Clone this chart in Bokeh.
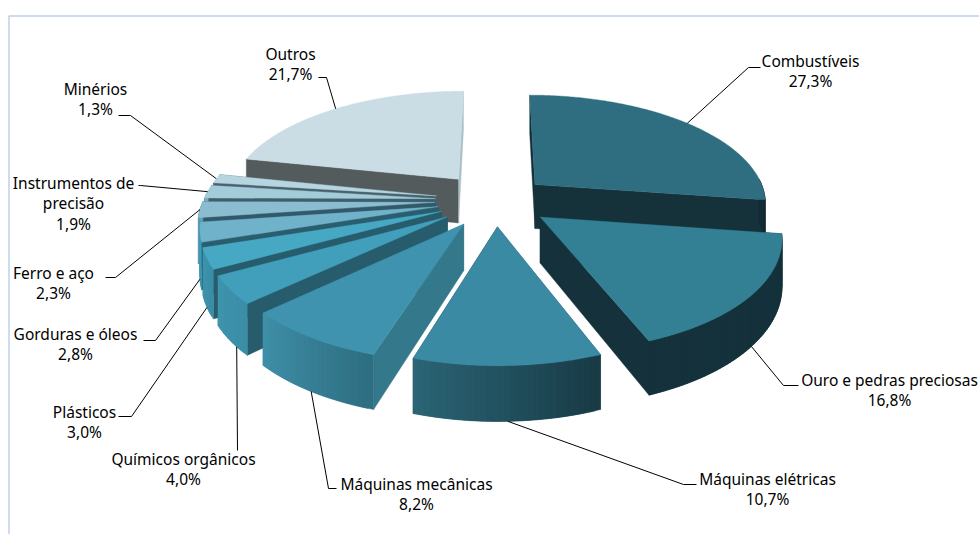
import math
from bokeh.embed import file_html
from bokeh.resources import INLINE
from bokeh.plotting import figure
from bokeh.models import ColumnDataSource, Range1d
from bokeh.core.properties import value

categories = ["Combustíveis", "Ouro e pedras preciosas", "Máquinas elétricas", "Máquinas mecânicas",
              "Químicos orgânicos", "Plásticos", "Gorduras e óleos", "Ferro e aço",
              "Instrumentos de precisão", "Minérios", "Outros"]
shares = [27.3, 16.8, 10.7, 8.2, 4.0, 3.0, 2.8, 2.3, 1.9, 1.3, 21.7]

# --- style / layout ------------------------------------------------------
explode = [.23, .24, .235, .25, .25, .25, .25, .26, .26, .26, .26]
top_col = ["#2f6e80", "#337f94", "#3b8aa3", "#3f93ae", "#429fbb", "#47a8c4", "#6fb2c9",
           "#8bbdd0", "#a3cbd9", "#b7d5e0", "#cadde5"]
start_wall = ["#12303a", "#15323c", "#2a6273", "#33788b", "#265c6c", "#265c6c", "#2a5e6e",
              "#33586a", "#3d5f6d", "#47626c", "#535b5c"]
end_wall = ["#15313a", "#15323c", "#183a45", "#33788b", "#265c6c", "#265c6c", "#2a5e6e",
            "#33586a", "#3d5f6d", "#47626c", "#a9c0c6"]
# outer-wall gradient, right end -> left end
outer_r = ["#152e36", "#15323c", "#183a45", "#2e6d80", "#3a8ea6", "#3a8ea6", "#3b90a8",
           "#60a0b5", "#7aabbb", "#94b8c4", "#b0c6cd"]
outer_l = ["#152e36", "#15323c", "#2b6576", "#3f90a9", "#3f94ad", "#3f94ad", "#40a0b8",
           "#60a0b5", "#7aabbb", "#94b8c4", "#b0c6cd"]
paint_order = [10, 9, 8, 7, 6, 5, 4, 3, 0, 1, 2]

OX, OY = 495.0, 200.0     # centre of the projected pie
RA, RB = 232.0, 108.0     # radii
PERSP = 0.156
DEPTH = 45.0

FRAME = "#bcd0e8"
# label: centre x, y of the first line; leader elbow, leader end; where on the slice the leader starts
lab_lines = [["Combustíveis"], ["Ouro e pedras preciosas"], ["Máquinas elétricas"], ["Máquinas mecânicas"],
             ["Químicos orgânicos"], ["Plásticos"], ["Gorduras e óleos"], ["Ferro e aço"],
             ["Instrumentos de", "precisão"], ["Minérios"], ["Outros"]]
lab_x = [810, 889, 767, 416, 183, 84, 75, 53, 73, 95, 290]
lab_y = [60, 379, 478, 483, 458, 411, 333, 272, 182, 88, 53]
elbow = [(748, 67), (783, 385), (683, 484), (328, 488), (237, 450), (131, 416), (155, 340), (115, 277),
         (140, 185), (130, 115), (326, 77)]
lead_end = [(760, 67), (798, 385), (696, 484), (336, 488), (237, 450), (118, 416), (143, 340), (105, 277),
            (138, 185), (118, 115), (318, 77)]
lead_frac = [.5, .5, .5, .5, .3, .5, .5, .5, .5, .5, .5]


def project(u, v, drop=0.0):
    s = 1.0 / (1.0 + PERSP * v)
    return OX + RA * u * s, OY - RB * v * s + drop * DEPTH * s


def rim(theta, e, mid, drop=0.0, r=1.0):
    u = r * math.sin(theta) + e * math.sin(mid)
    v = r * math.cos(theta) + e * math.cos(mid)
    return project(u, v, drop)


def mix(a, b, t):
    ca = [int(a[i:i + 2], 16) for i in (1, 3, 5)]
    cb = [int(b[i:i + 2], 16) for i in (1, 3, 5)]
    return "#%02x%02x%02x" % tuple(round(x + (y - x) * t) for x, y in zip(ca, cb))


total = sum(shares)
bounds = [0.0]
for sh in shares:
    bounds.append(bounds[-1] + sh / total * 2 * math.pi)

xs, ys, cols = [], [], []


def add(poly, col):
    xs.append([q[0] for q in poly])
    ys.append([q[1] for q in poly])
    cols.append(col)


for i in paint_order:
    a0, a1 = bounds[i], bounds[i + 1]
    mid = (a0 + a1) / 2
    e = explode[i]
    apex_top = rim(0, e, mid, 0, 0)
    apex_bot = rim(0, e, mid, 1, 0)
    # side walls
    add([apex_top, rim(a0, e, mid), rim(a0, e, mid, 1), apex_bot], start_wall[i])
    add([apex_top, rim(a1, e, mid), rim(a1, e, mid, 1), apex_bot], end_wall[i])
    # outer wall in thin overlapping strips
    n = max(4, int((a1 - a0) / 0.02))
    step = (a1 - a0) / n
    for k in range(n):
        t0 = a0 + step * k
        t1 = min(a1, t0 + 2 * step)
        if math.cos(t0 + step / 2) < 0.05:
            add([rim(t0, e, mid), rim(t1, e, mid), rim(t1, e, mid, 1), rim(t0, e, mid, 1)],
                mix(outer_r[i], outer_l[i], (k + .5) / n))
    # top face
    n = max(6, int((a1 - a0) / 0.01))
    add([apex_top] + [rim(a0 + (a1 - a0) * k / n, e, mid) for k in range(n + 1)], top_col[i])

p = figure(width=979, height=534, output_backend="svg", toolbar_location=None,
           x_range=Range1d(0, 979), y_range=Range1d(534, 0), min_border=0, outline_line_color=None)
p.axis.visible = False
p.grid.visible = False
p.background_fill_color = "white"
p.border_fill_color = "white"

frame_x = [8.5, 8.5, 979]
frame_y = [534, 15.5, 15.5]
p.line(frame_x, frame_y, line_color=FRAME, line_width=1.5)

p.patches("xs", "ys", source=ColumnDataSource(dict(xs=xs, ys=ys, c=cols)), fill_color="c", line_color="c",
          line_width=0.4)

# leaders
lx, ly = [], []
for i in range(len(shares)):
    mid = (bounds[i] + bounds[i + 1]) / 2
    at = bounds[i] + (bounds[i + 1] - bounds[i]) * lead_frac[i]
    front = 1 if 1.4 < mid < math.radians(262) else 0
    st = rim(at, explode[i], mid, front)
    lx.append([st[0], elbow[i][0], lead_end[i][0]])
    ly.append([st[1], elbow[i][1], lead_end[i][1]])
p.multi_line(lx, ly, line_color="black", line_width=1)

# labels
tx, ty, tt = [], [], []
for i, lines in enumerate(lab_lines):
    rows = lines + [("%.1f" % shares[i]).replace(".", ",") + "%"]
    for j, row in enumerate(rows):
        tx.append(lab_x[i])
        ty.append(lab_y[i] + j * 20.5)
        tt.append(row)
p.text(tx, ty, text=tt, text_align="center", text_baseline="middle", text_color="black",
       text_font=value("Noto Sans"), text_font_size="15.5px")

open("out.html", "w").write(file_html(p, INLINE))
